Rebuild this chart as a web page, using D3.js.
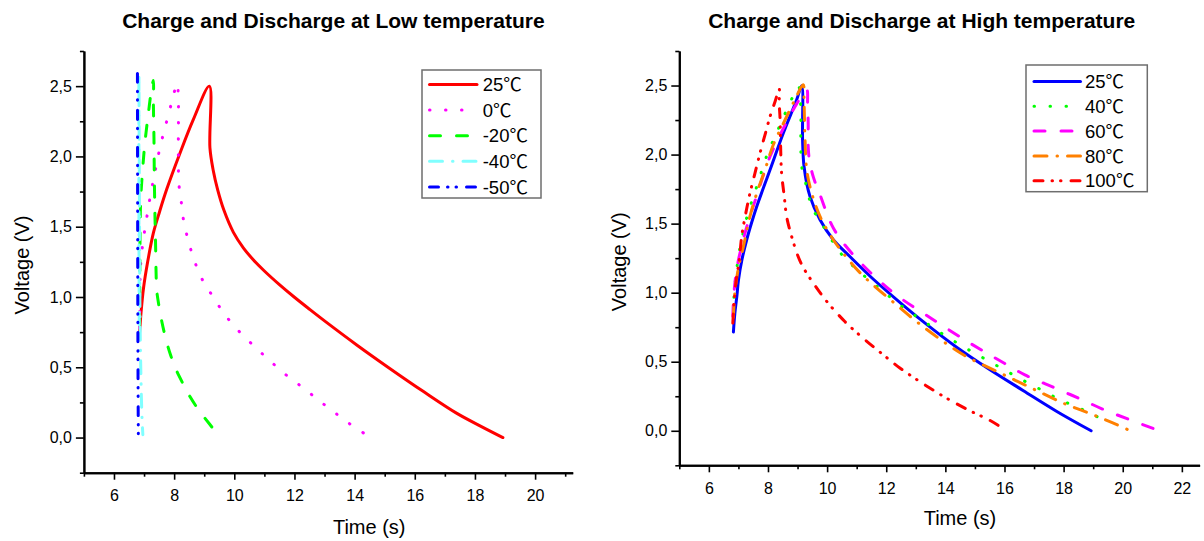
<!DOCTYPE html>
<html>
<head>
<meta charset="utf-8">
<script src="https://cdn.jsdelivr.net/npm/d3@7"></script>
<style>
  html, body { margin: 0; padding: 0; background: #fff; }
  svg { display: block; }
  text { font-family: "Liberation Sans", Arial, "Noto Sans CJK SC", sans-serif; fill: #000; }
</style>
</head>
<body>
<svg id="chart" width="1204" height="541"></svg>
<script>
// ---------- DATA ----------
const titleLow = "Charge and Discharge at Low temperature";
const titleHigh = "Charge and Discharge at High temperature";
const xLabel = "Time (s)";
const yLabel = "Voltage (V)";

const lowLabels = ["25℃", "0℃", "-20℃", "-40℃", "-50℃"];
const highLabels = ["25℃", "40℃", "60℃", "80℃", "100℃"];

const lowXTicks = [6, 8, 10, 12, 14, 16, 18, 20];
const lowXMinor = [5, 7, 9, 11, 13, 15, 17, 19, 21];
const highXTicks = [6, 8, 10, 12, 14, 16, 18, 20, 22];
const highXMinor = [5, 7, 9, 11, 13, 15, 17, 19, 21];
const yTicks = [0, 0.5, 1.0, 1.5, 2.0, 2.5];
const yMinor = [-0.25, 0.25, 0.75, 1.25, 1.75, 2.25, 2.75];

// Low temperature series: [time, voltage]
const low25 = [[6.84,0.715],[6.9,0.89],[6.98,1.06],[7.12,1.25],[7.31,1.456],[7.52,1.61],[7.75,1.764],[8.2,2.026],[8.64,2.263],[9.17,2.5],[9.19,2.06],[9.3,1.9],[9.45,1.76],[9.65,1.62],[9.97,1.46],[10.3,1.35],[10.63,1.265],[11.0,1.185],[11.5,1.088],[12.0,0.998],[12.5,0.913],[13.0,0.83],[14.07,0.659],[15.18,0.49],[16.29,0.327],[17.4,0.172],[18.2,0.08],[18.93,0.0]];
const low0 = [[6.85,0.78],[6.86,0.95],[6.87,1.147],[6.9,1.266],[6.96,1.385],[7.04,1.5],[7.13,1.617],[7.22,1.733],[7.33,1.85],[7.43,1.966],[7.55,2.08],[7.69,2.2],[7.83,2.31],[7.97,2.43],[8.1,2.52],[8.14,2.4],[8.14,2.04],[8.16,1.8],[8.23,1.69],[8.29,1.574],[8.4,1.46],[8.55,1.34],[8.73,1.225],[8.97,1.11],[9.3,1.0],[9.67,0.879],[10.13,0.762],[10.67,0.648],[11.21,0.541],[11.74,0.442],[12.3,0.352],[12.83,0.261],[13.36,0.174],[13.9,0.088],[14.46,0.01]];
const low20 = [[6.85,0.8],[6.86,1.2],[6.87,1.5],[6.89,1.7],[6.95,1.9],[7.03,2.1],[7.14,2.3],[7.25,2.48],[7.31,2.54],[7.31,2.38],[7.33,2.12],[7.34,1.88],[7.36,1.6],[7.38,1.41],[7.4,1.17],[7.42,1.05],[7.47,0.97],[7.59,0.826],[7.75,0.68],[7.89,0.582],[8.05,0.49],[8.29,0.385],[8.53,0.29],[8.83,0.192],[9.17,0.098],[9.52,0.003]];
const low40 = [[6.84,0.8],[6.83,1.6],[6.83,2.58],[6.84,2.0],[6.85,1.5],[6.86,1.0],[6.89,0.5],[6.93,0.15],[6.96,0.02]];
const low50 = [[6.78,2.59],[6.79,1.2],[6.8,0.4],[6.81,0.0]];

// High temperature series: [time, voltage]
const high25 = [[6.83,0.715],[6.88,0.852],[6.95,0.98],[7.0,1.09],[7.12,1.24],[7.28,1.383],[7.45,1.51],[7.62,1.624],[8.07,1.89],[8.52,2.156],[8.97,2.397],[9.14,2.498],[9.17,2.107],[9.22,1.914],[9.42,1.697],[9.76,1.528],[10.21,1.383],[10.77,1.262],[11.5,1.11],[12.35,0.95],[13.25,0.79],[14.38,0.605],[15.51,0.442],[16.64,0.29],[17.77,0.14],[18.93,0.0]];
const high40 = [[6.84,0.85],[6.85,0.97],[6.93,1.15],[7.05,1.323],[7.17,1.443],[7.3,1.559],[7.45,1.66],[7.64,1.781],[7.82,1.902],[8.01,2.022],[8.24,2.131],[8.46,2.24],[8.74,2.373],[9.03,2.493],[9.11,2.324],[9.11,2.18],[9.11,2.06],[9.14,1.914],[9.25,1.818],[9.36,1.709],[9.53,1.6],[9.82,1.5],[10.19,1.37],[10.55,1.262],[11.1,1.15],[11.62,1.057],[12.13,0.968],[12.69,0.876],[13.22,0.8],[13.8,0.715],[14.35,0.642],[14.89,0.574],[15.45,0.507],[15.99,0.442],[16.55,0.374],[17.09,0.314],[17.62,0.253],[18.18,0.196],[18.78,0.14],[19.23,0.092]];
const high60 = [[6.81,0.83],[6.85,1.0],[6.95,1.18],[7.22,1.43],[7.6,1.69],[8.07,1.986],[8.52,2.19],[8.95,2.36],[9.31,2.47],[9.34,2.37],[9.36,2.228],[9.36,2.06],[9.4,1.962],[9.53,1.84],[9.76,1.709],[10.21,1.468],[10.83,1.287],[11.79,1.081],[12.41,0.972],[13.59,0.804],[14.83,0.635],[15.79,0.514],[16.69,0.405],[17.65,0.315],[18.5,0.237],[19.34,0.155],[20.3,0.075],[21.15,0.007]];
const high80 = [[6.83,0.82],[6.88,1.0],[7.0,1.18],[7.17,1.335],[7.39,1.552],[7.62,1.72],[7.9,1.89],[8.18,2.071],[8.58,2.252],[8.91,2.397],[9.19,2.505],[9.22,2.373],[9.25,2.131],[9.31,1.89],[9.48,1.72],[9.76,1.552],[10.21,1.383],[10.66,1.255],[11.11,1.145],[11.56,1.055],[12.3,0.92],[12.97,0.8],[13.71,0.68],[14.61,0.55],[15.74,0.43],[16.86,0.315],[17.99,0.2],[18.89,0.125],[19.8,0.045],[20.25,0.0]];
const high100 = [[6.81,0.78],[6.86,0.949],[6.93,1.1],[7.03,1.238],[7.11,1.407],[7.25,1.576],[7.39,1.72],[7.56,1.866],[7.73,2.01],[7.93,2.167],[8.07,2.276],[8.24,2.385],[8.38,2.474],[8.38,2.373],[8.41,2.252],[8.43,2.035],[8.46,1.866],[8.55,1.697],[8.63,1.552],[8.8,1.407],[9.02,1.262],[9.2,1.18],[9.53,1.07],[9.99,0.936],[10.6,0.791],[11.22,0.67],[11.9,0.55],[12.46,0.455],[13.25,0.34],[14.05,0.235],[14.83,0.145],[15.51,0.075],[15.85,0.03]];

const lowSeries = [low25, low0, low20, low40, low50];
const highSeries = [high25, high40, high60, high80, high100];

// ---------- STYLES ----------
const lowColors = ["#ff0000", "#ff00ff", "#00ff00", "#80ffff", "#0000ff"];
const highColors = ["#0000ff", "#00ff00", "#ff00ff", "#ff8000", "#ff0000"];
const DASH = {
  solid: null,
  dot: "0.5,15.5",
  dash: "11,16",
  dashdot: "13,10,0.5,10",
  dashdotdot: "9,9,0.5,8,0.5,10"
};
const lowDash = [DASH.solid, DASH.dot, DASH.dash, DASH.dashdot, DASH.dashdotdot];
const highDash = [DASH.solid, DASH.dot, DASH.dash, DASH.dashdot, DASH.dashdotdot];

const svg = d3.select("#chart");
const fmt = v => d3.format(".1f")(v).replace(".", ",");

function panel(cfg) {
  const x = d3.scaleLinear().domain(cfg.xDomain).range(cfg.xRange);
  const y = d3.scaleLinear().domain([-0.25, 2.75]).range(cfg.yRange);
  const g = svg.append("g");

  // lines
  const line = d3.line().x(d => x(d[0])).y(d => y(d[1])).curve(d3.curveCatmullRom.alpha(0.5));
  cfg.series.forEach((s, i) => {
    g.append("path").datum(s)
      .attr("d", line)
      .attr("fill", "none")
      .attr("stroke", cfg.colors[i])
      .attr("stroke-width", 3)
      .attr("stroke-linecap", "round")
      .attr("stroke-linejoin", "round")
      .attr("stroke-dasharray", cfg.dashes[i]);
  });

  // axes
  const xMinorAxis = d3.axisBottom(x).tickValues(cfg.xMinor).tickSize(4).tickSizeOuter(0).tickFormat("");
  const xAxis = d3.axisBottom(x).tickValues(cfg.xTicks).tickSize(7).tickSizeOuter(0).tickPadding(10).tickFormat(d3.format("d"));
  const yMinorAxis = d3.axisLeft(y).tickValues(yMinor).tickSize(4).tickSizeOuter(0).tickFormat("");
  const yAxis = d3.axisLeft(y).tickValues(yTicks).tickSize(8).tickSizeOuter(0).tickPadding(4).tickFormat(fmt);

  const y0 = cfg.yRange[0], x0 = cfg.xRange[0];
  [xMinorAxis, xAxis].forEach(a => {
    const ga = g.append("g").attr("transform", `translate(0,${y0})`).call(a);
    ga.select(".domain").attr("stroke-width", 2).attr("stroke", "#000");
    ga.selectAll(".tick line").attr("stroke-width", 1.6).attr("stroke", "#000");
    ga.selectAll("text").style("font-size", "16px").attr("fill", "#000");
  });
  [yMinorAxis, yAxis].forEach(a => {
    const ga = g.append("g").attr("transform", `translate(${x0},0)`).call(a);
    ga.select(".domain").attr("stroke-width", 2).attr("stroke", "#000");
    ga.selectAll(".tick line").attr("stroke-width", 1.6).attr("stroke", "#000");
    ga.selectAll("text").style("font-size", "16px").attr("fill", "#000");
  });

  // titles
  g.append("text").attr("x", cfg.titleX).attr("y", 28).attr("text-anchor", "middle")
    .style("font-size", "21px").style("font-weight", "bold").text(cfg.title);
  g.append("text").attr("x", cfg.xLabelX).attr("y", cfg.xLabelY).attr("text-anchor", "middle")
    .style("font-size", "20px").text(xLabel);
  g.append("text").attr("transform", `translate(${cfg.yLabelX},${cfg.yLabelY}) rotate(-90)`)
    .attr("text-anchor", "middle").attr("dy", "0.35em")
    .style("font-size", "20px").text(yLabel);

  // legend
  const L = cfg.legend;
  g.append("rect").attr("x", L.x).attr("y", L.y).attr("width", L.w).attr("height", L.h)
    .attr("fill", "#fff").attr("stroke", "#6e6e6e").attr("stroke-width", 1.5);
  cfg.labels.forEach((lab, i) => {
    const ry = L.row0 + i * L.rowStep;
    g.append("line").attr("x1", L.s1).attr("x2", L.s2).attr("y1", ry).attr("y2", ry)
      .attr("stroke", cfg.colors[i]).attr("stroke-width", 3)
      .attr("stroke-linecap", "round")
      .attr("stroke-dasharray", cfg.dashes[i]);
    const t = g.append("text").attr("x", L.tx).attr("y", ry + 6.6).style("font-size", "18.5px");
    const parts = lab.split("℃");
    t.append("tspan").text(parts[0]);
    t.append("tspan").style("font-family", "'Noto Sans CJK SC', 'Noto Sans CJK JP', sans-serif").text("℃");
  });
}

panel({
  xDomain: [5, 21.25], xRange: [83.9, 572.7], yRange: [472.7, 51],
  xTicks: lowXTicks, xMinor: lowXMinor,
  series: lowSeries, colors: lowColors, dashes: lowDash, labels: lowLabels,
  title: titleLow, titleX: 333.4,
  xLabelX: 369.2, xLabelY: 534, yLabelX: 21.7, yLabelY: 265,
  legend: { x: 422, y: 70, w: 119, h: 128, row0: 84.5, rowStep: 25.6, s1: 429.5, s2: 477, tx: 482.7 }
});

panel({
  xDomain: [5, 22.6], xRange: [679.3, 1199.6], yRange: [465.3, 51],
  xTicks: highXTicks, xMinor: highXMinor,
  series: highSeries, colors: highColors, dashes: highDash, labels: highLabels,
  title: titleHigh, titleX: 921.7,
  xLabelX: 960, xLabelY: 525, yLabelX: 619, yLabelY: 261.7,
  legend: { x: 1026, y: 65, w: 121.3, h: 126.7, row0: 81.5, rowStep: 24.8, s1: 1034, s2: 1080.5, tx: 1085 }
});
</script>
</body>
</html>
